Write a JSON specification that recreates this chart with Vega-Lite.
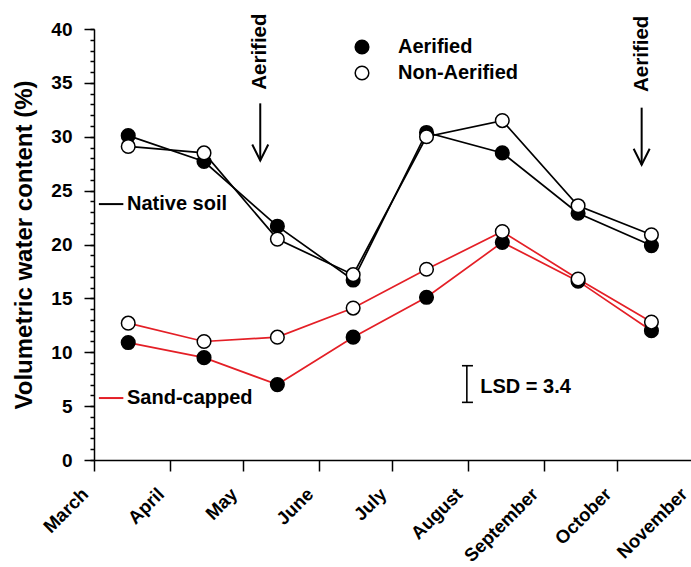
{
  "$schema": "https://vega.github.io/schema/vega-lite/v6.json",
  "width": 599,
  "height": 431,
  "autosize": {"type": "none"},
  "padding": {"left": 94, "top": 29, "right": -2, "bottom": 107},
  "background": "white",
  "config": {
    "view": {"stroke": null},
    "font": "Liberation Sans",
    "text": {"font": "Liberation Sans", "fontWeight": "bold", "fontSize": 20, "color": "black"},
    "axis": {"grid": false, "domainColor": "black", "tickColor": "black", "domainWidth": 1.5, "tickWidth": 1.5, "labelColor": "black", "titleColor": "black", "labelFont": "Liberation Sans", "titleFont": "Liberation Sans"}
  },
  "resolve": {"axis": {"y": "independent"}},
  "layer": [
    {
      "data": {"name": "series", "values": [
        {"soil": "Native soil", "treatment": "Aerified", "date": "2010/03/15", "vwc": 30.1},
        {"soil": "Native soil", "treatment": "Aerified", "date": "2010/04/15", "vwc": 27.7},
        {"soil": "Native soil", "treatment": "Aerified", "date": "2010/05/15", "vwc": 21.7},
        {"soil": "Native soil", "treatment": "Aerified", "date": "2010/06/15", "vwc": 16.7},
        {"soil": "Native soil", "treatment": "Aerified", "date": "2010/07/15", "vwc": 30.4},
        {"soil": "Native soil", "treatment": "Aerified", "date": "2010/08/15", "vwc": 28.5},
        {"soil": "Native soil", "treatment": "Aerified", "date": "2010/09/15", "vwc": 22.9},
        {"soil": "Native soil", "treatment": "Aerified", "date": "2010/10/15", "vwc": 19.9},
        {"soil": "Native soil", "treatment": "Non-Aerified", "date": "2010/03/15", "vwc": 29.1},
        {"soil": "Native soil", "treatment": "Non-Aerified", "date": "2010/04/15", "vwc": 28.5},
        {"soil": "Native soil", "treatment": "Non-Aerified", "date": "2010/05/15", "vwc": 20.5},
        {"soil": "Native soil", "treatment": "Non-Aerified", "date": "2010/06/15", "vwc": 17.2},
        {"soil": "Native soil", "treatment": "Non-Aerified", "date": "2010/07/15", "vwc": 30.0},
        {"soil": "Native soil", "treatment": "Non-Aerified", "date": "2010/08/15", "vwc": 31.5},
        {"soil": "Native soil", "treatment": "Non-Aerified", "date": "2010/09/15", "vwc": 23.6},
        {"soil": "Native soil", "treatment": "Non-Aerified", "date": "2010/10/15", "vwc": 20.9},
        {"soil": "Sand-capped", "treatment": "Aerified", "date": "2010/03/15", "vwc": 10.9},
        {"soil": "Sand-capped", "treatment": "Aerified", "date": "2010/04/15", "vwc": 9.5},
        {"soil": "Sand-capped", "treatment": "Aerified", "date": "2010/05/15", "vwc": 7.0},
        {"soil": "Sand-capped", "treatment": "Aerified", "date": "2010/06/15", "vwc": 11.4},
        {"soil": "Sand-capped", "treatment": "Aerified", "date": "2010/07/15", "vwc": 15.1},
        {"soil": "Sand-capped", "treatment": "Aerified", "date": "2010/08/15", "vwc": 20.2},
        {"soil": "Sand-capped", "treatment": "Aerified", "date": "2010/09/15", "vwc": 16.6},
        {"soil": "Sand-capped", "treatment": "Aerified", "date": "2010/10/15", "vwc": 12.0},
        {"soil": "Sand-capped", "treatment": "Non-Aerified", "date": "2010/03/15", "vwc": 12.7},
        {"soil": "Sand-capped", "treatment": "Non-Aerified", "date": "2010/04/15", "vwc": 11.0},
        {"soil": "Sand-capped", "treatment": "Non-Aerified", "date": "2010/05/15", "vwc": 11.4},
        {"soil": "Sand-capped", "treatment": "Non-Aerified", "date": "2010/06/15", "vwc": 14.1},
        {"soil": "Sand-capped", "treatment": "Non-Aerified", "date": "2010/07/15", "vwc": 17.7},
        {"soil": "Sand-capped", "treatment": "Non-Aerified", "date": "2010/08/15", "vwc": 21.2},
        {"soil": "Sand-capped", "treatment": "Non-Aerified", "date": "2010/09/15", "vwc": 16.8},
        {"soil": "Sand-capped", "treatment": "Non-Aerified", "date": "2010/10/15", "vwc": 12.8}
      ]},
      "mark": {"type": "line", "strokeWidth": 1.7},
      "encoding": {
        "x": {"field": "date", "type": "temporal",
          "scale": {"domain": [{"year": 2010, "month": 3, "date": 1}, {"year": 2010, "month": 11, "date": 1}]},
          "axis": {
            "title": null,
            "values": [
              {"year": 2010, "month": 3, "date": 1}, {"year": 2010, "month": 4, "date": 1},
              {"year": 2010, "month": 5, "date": 1}, {"year": 2010, "month": 6, "date": 1},
              {"year": 2010, "month": 7, "date": 1}, {"year": 2010, "month": 8, "date": 1},
              {"year": 2010, "month": 9, "date": 1}, {"year": 2010, "month": 10, "date": 1},
              {"year": 2010, "month": 11, "date": 1}
            ],
            "format": "%B", "labelAngle": -45, "labelAlign": "right", "labelBaseline": "alphabetic",
            "tickSize": 11, "labelPadding": 24, "labelOffset": -5, "labelFontSize": 18.5, "labelFontWeight": "bold",
            "labelOverlap": false, "labelBound": false, "labelFlush": false
          }
        },
        "y": {"field": "vwc", "type": "quantitative",
          "scale": {"domain": [0, 40], "nice": false, "zero": true},
          "axis": {
            "orient": "left",
            "title": "Volumetric water content (%)",
            "values": [0, 5, 10, 15, 20, 25, 30, 35, 40],
            "tickSize": 10, "labelPadding": 12, "labelFontSize": 19, "labelFontWeight": "bold",
            "titleFontSize": 24, "titleFontWeight": "bold", "titlePadding": 14
          }
        },
        "color": {"field": "soil", "type": "nominal",
          "scale": {"domain": ["Native soil", "Sand-capped"], "range": ["#000000", "#e41f26"]},
          "legend": null},
        "detail": {"field": "treatment"}
      }
    },
    {
      "data": {"name": "series"},
      "mark": {"type": "point", "shape": "circle", "filled": true, "size": 185, "stroke": "black", "strokeWidth": 1.5, "opacity": 1},
      "encoding": {
        "x": {"field": "date", "type": "temporal"},
        "y": {"field": "vwc", "type": "quantitative",
          "axis": {
            "orient": "left", "title": null, "labels": false, "domain": false, "tickSize": 4,
            "values": [0,1,2,3,4,5,6,7,8,9,10,11,12,13,14,15,16,17,18,19,20,21,22,23,24,25,26,27,28,29,30,31,32,33,34,35,36,37,38,39,40]
          }
        },
        "fill": {"field": "treatment", "type": "nominal",
          "scale": {"domain": ["Aerified", "Non-Aerified"], "range": ["#000000", "#ffffff"]},
          "legend": {
            "title": null, "orient": "none", "legendX": 258, "legendY": 8,
            "padding": 0, "symbolType": "circle", "symbolSize": 185,
            "symbolStrokeColor": "black", "symbolStrokeWidth": 1.5,
            "labelFontSize": 20, "labelFontWeight": "bold", "labelFont": "Liberation Sans", "labelColor": "black",
            "labelOffset": 26, "rowPadding": 6
          }
        }
      }
    },
    {
      "data": {"values": [
        {"date": "2010/05/08", "v": 37.9, "label": "Aerified"},
        {"date": "2010/10/11", "v": 37.7, "label": "Aerified"}
      ]},
      "mark": {"type": "text", "angle": 270, "align": "center", "baseline": "middle", "fontSize": 20.5},
      "encoding": {
        "x": {"field": "date", "type": "temporal"},
        "y": {"field": "v", "type": "quantitative", "axis": null},
        "text": {"field": "label"}
      }
    },
    {
      "data": {"values": [
        {"date": "2010/05/08", "top": 33.1, "tip": 27.8},
        {"date": "2010/10/11", "top": 32.7, "tip": 27.4}
      ]},
      "layer": [
        {
          "mark": {"type": "rule", "strokeWidth": 2, "color": "black"},
          "encoding": {
            "x": {"field": "date", "type": "temporal"},
            "y": {"field": "top", "type": "quantitative", "axis": null},
            "y2": {"field": "tip"}
          }
        },
        {
          "mark": {"type": "point", "shape": "M-1,-2L0,0L1,-2", "filled": false, "size": 256, "strokeWidth": 2, "color": "black", "opacity": 1},
          "encoding": {
            "x": {"field": "date", "type": "temporal"},
            "y": {"field": "tip", "type": "quantitative", "axis": null}
          }
        }
      ]
    },
    {
      "data": {"values": [
        {"soil": "Native soil", "d1": "2010/03/03", "d2": "2010/03/13", "dt": "2010/03/14 12:00", "v": 23.75},
        {"soil": "Sand-capped", "d1": "2010/03/03", "d2": "2010/03/13", "dt": "2010/03/14 12:00", "v": 5.75}
      ]},
      "layer": [
        {
          "mark": {"type": "rule", "strokeWidth": 2},
          "encoding": {
            "x": {"field": "d1", "type": "temporal"},
            "x2": {"field": "d2"},
            "y": {"field": "v", "type": "quantitative", "axis": null},
            "color": {"field": "soil", "type": "nominal", "legend": null}
          }
        },
        {
          "mark": {"type": "text", "align": "left", "baseline": "middle", "fontSize": 20},
          "encoding": {
            "x": {"field": "dt", "type": "temporal"},
            "y": {"field": "v", "type": "quantitative", "axis": null},
            "text": {"field": "soil"}
          }
        }
      ]
    },
    {
      "data": {"values": [
        {"date": "2010/07/31 12:00", "c1": "2010/07/29 12:00", "c2": "2010/08/03", "lo": 5.35, "hi": 8.75, "mid": 6.8, "dt": "2010/08/06", "label": "LSD = 3.4"}
      ]},
      "layer": [
        {
          "mark": {"type": "rule", "strokeWidth": 1.6, "color": "black"},
          "encoding": {
            "x": {"field": "date", "type": "temporal"},
            "y": {"field": "lo", "type": "quantitative", "axis": null},
            "y2": {"field": "hi"}
          }
        },
        {
          "mark": {"type": "rule", "strokeWidth": 1.6, "color": "black"},
          "encoding": {
            "x": {"field": "c1", "type": "temporal"},
            "x2": {"field": "c2"},
            "y": {"field": "lo", "type": "quantitative", "axis": null}
          }
        },
        {
          "mark": {"type": "rule", "strokeWidth": 1.6, "color": "black"},
          "encoding": {
            "x": {"field": "c1", "type": "temporal"},
            "x2": {"field": "c2"},
            "y": {"field": "hi", "type": "quantitative", "axis": null}
          }
        },
        {
          "mark": {"type": "text", "align": "left", "baseline": "middle", "fontSize": 20},
          "encoding": {
            "x": {"field": "dt", "type": "temporal"},
            "y": {"field": "mid", "type": "quantitative", "axis": null},
            "text": {"field": "label"}
          }
        }
      ]
    }
  ]
}
